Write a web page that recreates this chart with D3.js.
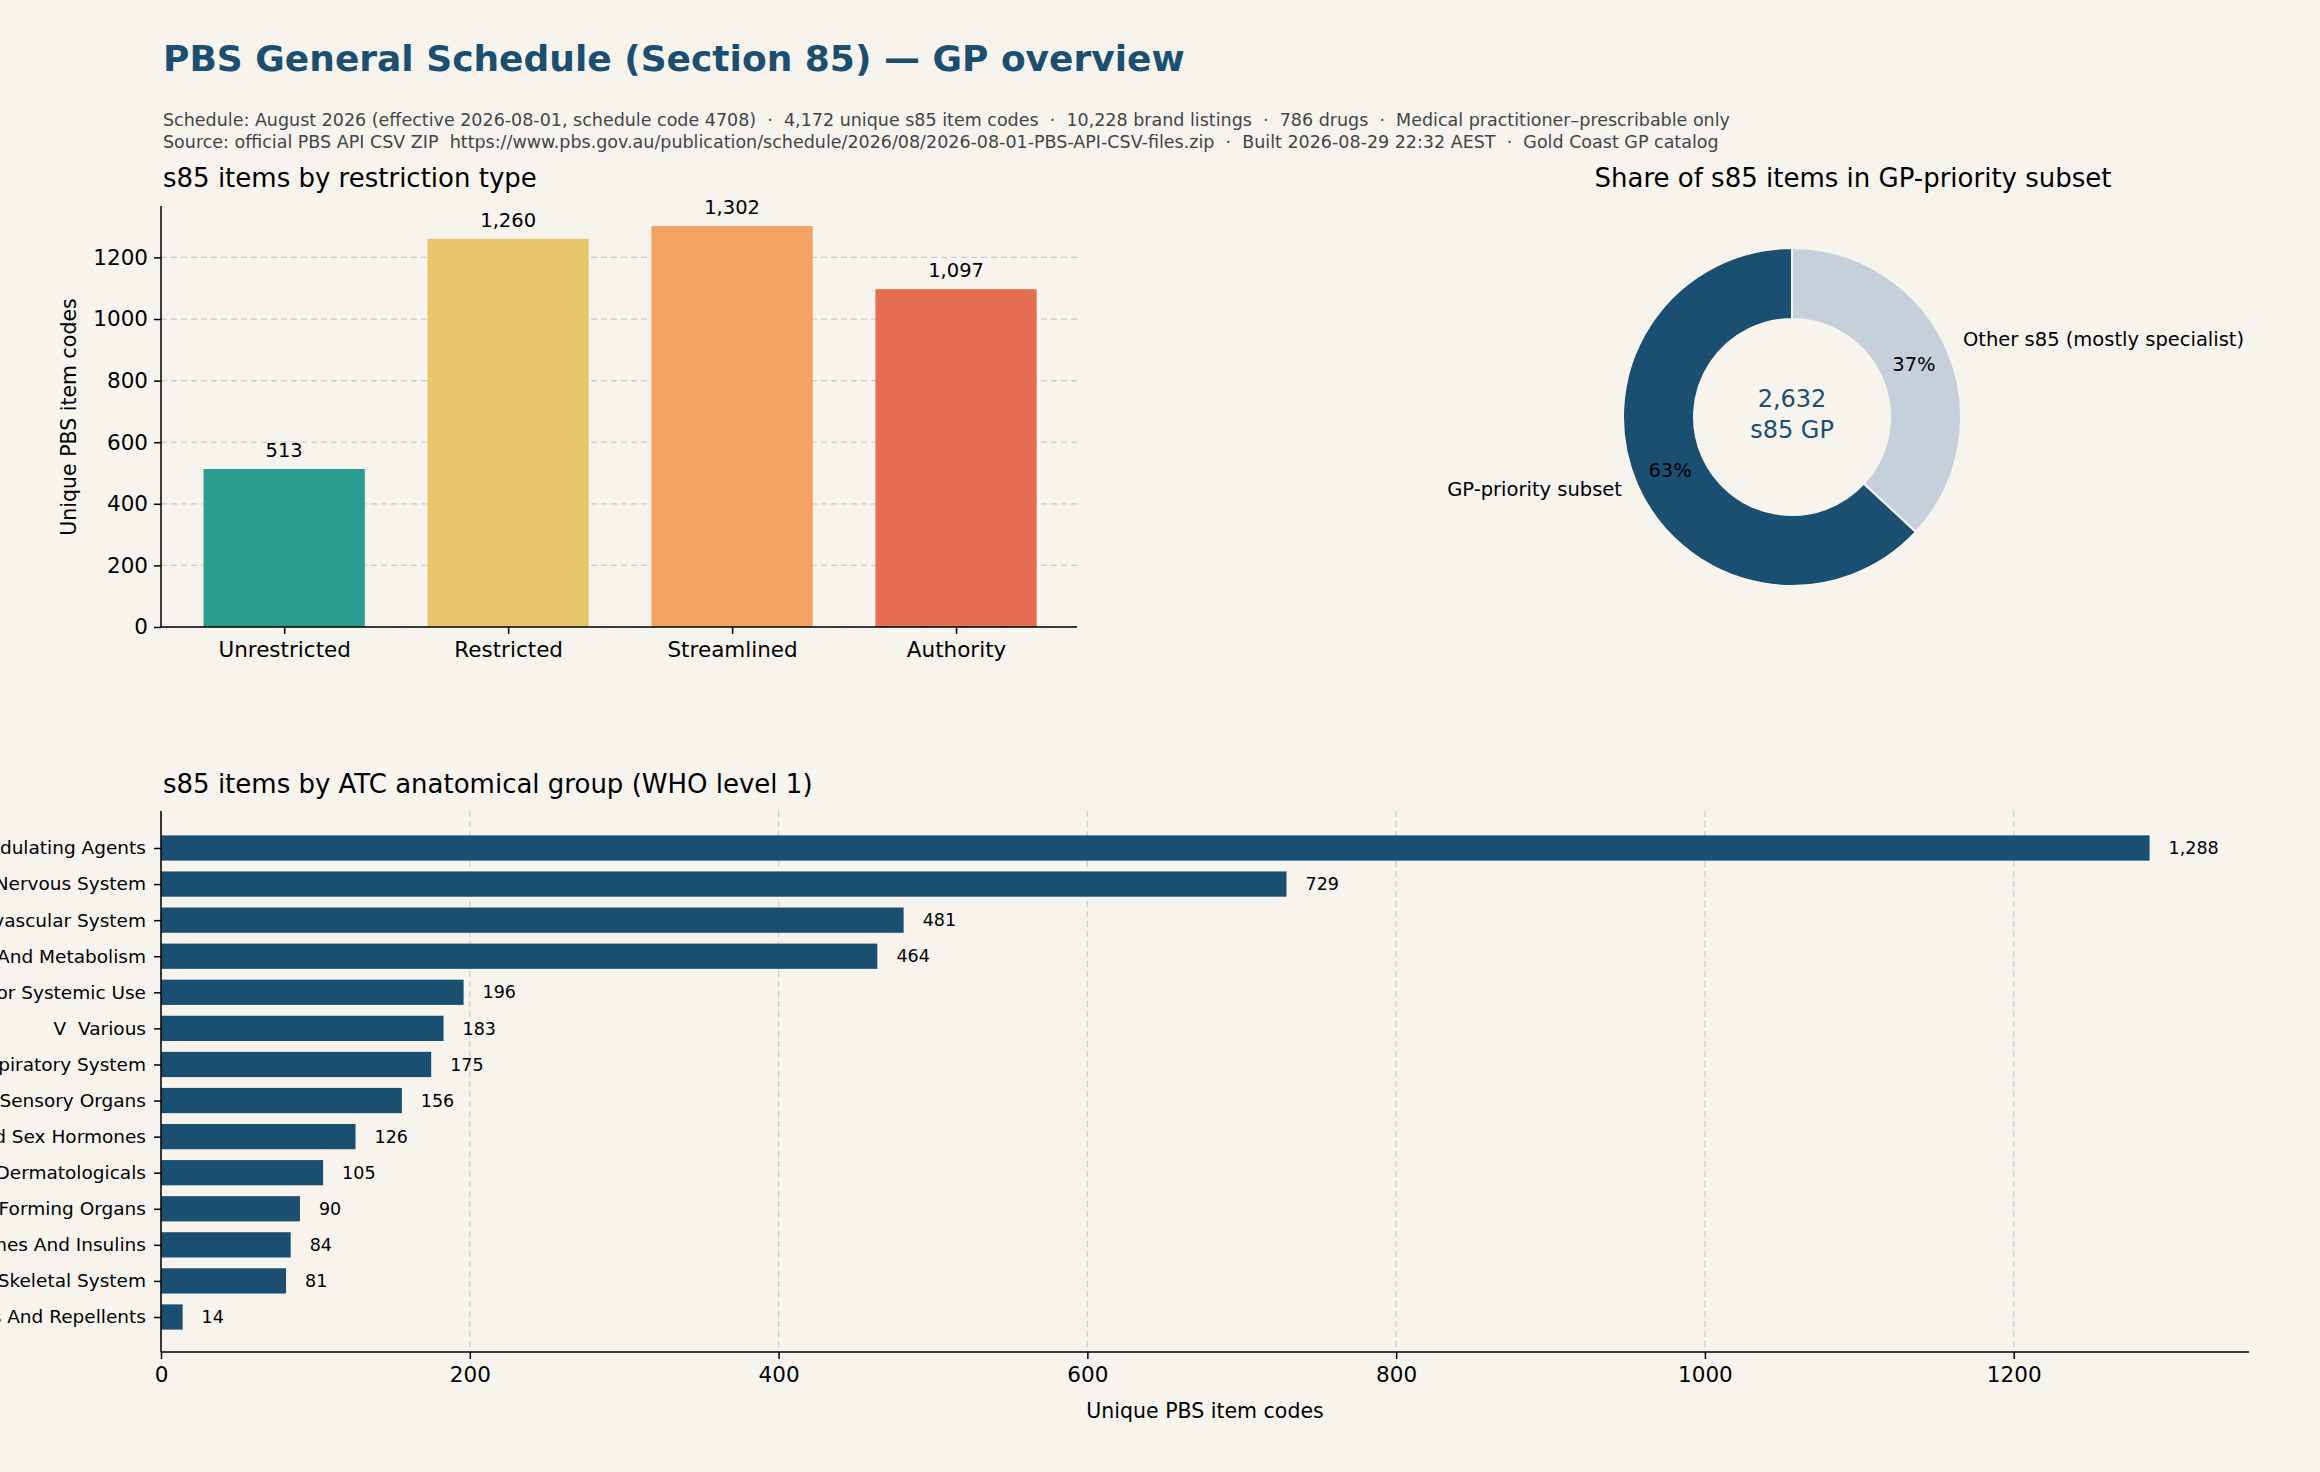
<!DOCTYPE html>
<html><head><meta charset="utf-8">
<script src="https://cdn.jsdelivr.net/npm/d3@7"></script>
<style>body{margin:0;background:#f7f4ee;}svg{display:block;font-family:"DejaVu Sans",sans-serif;}text{white-space:pre;}</style>
</head><body><svg id="c" width="2320" height="1472"></svg>
<script>
const restrCats=["Unrestricted","Restricted","Streamlined","Authority"];
const restrVals=[513,1260,1302,1097];
const restrColors=["#2a9d8f","#e9c46a","#f4a261","#e76f51"];
const shareLabels=["Other s85 (mostly specialist)","GP-priority subset"];
const shareVals=[1540,2632];
const atcCats=["L  Antineoplastic And Immunomodulating Agents","N  Nervous System","C  Cardiovascular System","A  Alimentary Tract And Metabolism","J  Antiinfectives For Systemic Use","V  Various","R  Respiratory System","S  Sensory Organs","G  Genito Urinary System And Sex Hormones","D  Dermatologicals","B  Blood And Blood Forming Organs","H  Systemic Hormonal Preparations, Excl. Sex Hormones And Insulins","M  Musculo-Skeletal System","P  Antiparasitic Products, Insecticides And Repellents"];
const atcVals=[1288,729,481,464,196,183,175,156,126,105,90,84,81,14];
const yTicks1=[0,200,400,600,800,1000,1200];
const xTicks2=[0,200,400,600,800,1000,1200];
const fmt=d3.format(",");
const dark="#1b4f72";
const svg=d3.select("#c");
svg.append("rect").attr("width",2320).attr("height",1472).attr("fill","#f7f4ee");
svg.append("text").attr("x",163).attr("y",71).attr("font-size",36).attr("font-weight","bold").attr("fill",dark).text("PBS General Schedule (Section 85) — GP overview");
svg.append("text").attr("x",163).attr("y",126).attr("font-size",17.5).attr("fill","#444").text("Schedule: August 2026 (effective 2026-08-01, schedule code 4708)  ·  4,172 unique s85 item codes  ·  10,228 brand listings  ·  786 drugs  ·  Medical practitioner–prescribable only");
svg.append("text").attr("x",163).attr("y",148).attr("font-size",17.5).attr("fill","#444").text("Source: official PBS API CSV ZIP  https://www.pbs.gov.au/publication/schedule/2026/08/2026-08-01-PBS-API-CSV-files.zip  ·  Built 2026-08-29 22:32 AEST  ·  Gold Coast GP catalog");

// Chart 1
const x1=d3.scaleLinear().domain([-0.55,3.54]).range([161,1077]);
const y1=d3.scaleLinear().domain([0,1367]).range([627,206]);
const g1=svg.append("g");
g1.selectAll(".gl").data(yTicks1).join("line").attr("x1",161).attr("x2",1077).attr("y1",d=>y1(d)).attr("y2",d=>y1(d)).attr("stroke","#ccc").attr("stroke-dasharray","6,4").attr("stroke-width",1.2);
const bw=x1(0.72)-x1(0);
g1.selectAll(".b").data(restrVals).join("rect").attr("x",(d,i)=>x1(i)-bw/2).attr("width",bw).attr("y",d=>y1(d)).attr("height",d=>y1(0)-y1(d)).attr("fill",(d,i)=>restrColors[i]);
g1.selectAll(".bl").data(restrVals).join("text").attr("x",(d,i)=>x1(i)).attr("y",d=>y1(d)-12).attr("text-anchor","middle").attr("font-size",19.5).text(d=>fmt(d));
const ya=g1.append("g").attr("transform","translate(161,0)").call(d3.axisLeft(y1).tickValues(yTicks1).tickFormat(d3.format("d")).tickSize(7).tickPadding(6));
const xa=g1.append("g").attr("transform","translate(0,627)").call(d3.axisBottom(x1).tickValues([0,1,2,3]).tickFormat(i=>restrCats[i]).tickSize(7).tickPadding(8));
[ya,xa].forEach(a=>{a.selectAll("text").attr("font-size",21.5).attr("fill","#000").attr("font-family","DejaVu Sans");a.selectAll("line,path").attr("stroke","#000").attr("stroke-width",1.5);});
ya.select(".domain").attr("d","M0,206V627");
xa.select(".domain").attr("d","M161,0H1077");
g1.append("text").attr("transform","translate(76,417) rotate(-90)").attr("text-anchor","middle").attr("font-size",20.5).text("Unique PBS item codes");
svg.append("text").attr("x",163).attr("y",187).attr("font-size",26).text("s85 items by restriction type");

// Donut
const cx=1792,cy=417;
svg.append("text").attr("x",1853).attr("y",187).attr("font-size",26).attr("text-anchor","middle").text("Share of s85 items in GP-priority subset");
const pie=d3.pie().sort(null).value(d=>d)(shareVals);
const arc=d3.arc().innerRadius(98).outerRadius(169);
const gd=svg.append("g").attr("transform",`translate(${cx},${cy})`);
gd.selectAll("path").data(pie).join("path").attr("d",arc).attr("fill",(d,i)=>i==0?"#c5d0da":dark).attr("stroke","#f7f4ee").attr("stroke-width",2);
pie.forEach((p,i)=>{
  const m=(p.startAngle+p.endAngle)/2;
  const r1=133;
  const px=Math.sin(m)*r1, py=-Math.cos(m)*r1;
  gd.append("text").attr("x",px).attr("y",py).attr("text-anchor","middle").attr("dy","0.35em").attr("font-size",19.5).text(Math.round(p.value/4172*100)+"%");
});
gd.append("text").attr("x",171).attr("y",-71).attr("font-size",19.5).text(shareLabels[0]);
gd.append("text").attr("x",-170).attr("y",79).attr("font-size",19.5).attr("text-anchor","end").text(shareLabels[1]);
gd.append("text").attr("y",-10).attr("text-anchor","middle").attr("font-size",24).attr("fill",dark).text(fmt(shareVals[1]));
gd.append("text").attr("y",21).attr("text-anchor","middle").attr("font-size",24).attr("fill",dark).text("s85 GP");

// Chart 2
const x2=d3.scaleLinear().domain([0,1352.4]).range([161,2249]);
const y2=d3.scaleLinear().domain([0,13]).range([848,1317]);
const bh=(y2(1)-y2(0))*0.7;
const g2=svg.append("g");
g2.selectAll(".gl").data(xTicks2).join("line").attr("y1",811).attr("y2",1352).attr("x1",d=>x2(d)).attr("x2",d=>x2(d)).attr("stroke","#ccc").attr("stroke-dasharray","6,4").attr("stroke-width",1.2);
g2.selectAll(".b").data(atcVals).join("rect").attr("x",x2(0)).attr("y",(d,i)=>y2(i)-bh/2).attr("height",bh).attr("width",d=>x2(d)-x2(0)).attr("fill",dark);
g2.selectAll(".bl").data(atcVals).join("text").attr("x",d=>x2(d)+19).attr("y",(d,i)=>y2(i)).attr("dy","0.35em").attr("font-size",17.5).text(d=>fmt(d));
const ya2=g2.append("g").attr("transform","translate(161,0)").call(d3.axisLeft(y2).tickValues(d3.range(14)).tickFormat(i=>atcCats[i]).tickSize(7).tickPadding(8));
const xa2=g2.append("g").attr("transform","translate(0,1352)").call(d3.axisBottom(x2).tickValues(xTicks2).tickFormat(d3.format("d")).tickSize(7).tickPadding(8));
ya2.selectAll("text").attr("font-size",18.5);
xa2.selectAll("text").attr("font-size",21.5);
[ya2,xa2].forEach(a=>{a.selectAll("text").attr("fill","#000").attr("font-family","DejaVu Sans");a.selectAll("line,path").attr("stroke","#000").attr("stroke-width",1.5);});
ya2.select(".domain").attr("d","M0,811V1352");
xa2.select(".domain").attr("d","M161,0H2249");
g2.append("text").attr("x",x2(0)+(2249-161)/2).attr("y",1418).attr("text-anchor","middle").attr("font-size",20.5).text("Unique PBS item codes");
svg.append("text").attr("x",163).attr("y",793).attr("font-size",26).text("s85 items by ATC anatomical group (WHO level 1)");
</script></body></html>
